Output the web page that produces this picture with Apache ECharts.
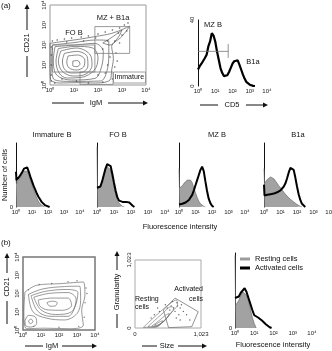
<!DOCTYPE html>
<html><head><meta charset="utf-8">
<script src="https://cdn.jsdelivr.net/npm/echarts@6/dist/echarts.min.js"></script>
<style>html,body{margin:0;padding:0;background:#fff}#c{width:332px;height:351px}</style>
</head><body><div id="c"></div>
<script>
// ---------- tick labels ----------
const decadeLabels = ['10\u2070','10\u00b9','10\u00b2','10\u00b3','10\u2074'];
const scatterTicks = [0, 1023];
const cd5Ticks = [0, 40];
const panelTitles = ['Immature B','FO B','MZ B','B1a'];
const legendNames = ['Resting cells','Activated cells'];

// ---------- histogram bins (log10 fluorescence) ----------
const histBins = [0,0.03,0.1,0.2,0.3,0.4,0.5,0.6,0.7,0.8,0.9,1.0,1.1,1.2,1.3,1.4,1.5,1.6,1.7,1.8,1.9,2.0,2.1,2.2,2.3,2.4,2.5,2.6,2.7,2.8,2.9,3.0,3.1,3.2,3.3,3.4];

// CD5 histogram of MZ+B1a gate (counts)
const cd5Counts = [10,10.5,12,13.5,14,17,19,24,27,32,30.5,27,21,16,11,8,6,5.5,6.5,8.5,11,13.5,15,16,15.5,13,10,7,4.5,2.5,1.5,0.8,0.4,0.1,0];
const cd5Gate = [[0,21],[1.75,21]];
const cd5GateTick = [[1.75,17],[1.75,25.5]];

// middle row histograms (relative number of cells)
const immGray  = [0.45,0.36,0.4,0.43,0.47,0.52,0.56,0.58,0.56,0.5,0.42,0.34,0.27,0.2,0.14,0.09,0.05,0.03,0.01,0];
const immBlack = [0.55,0.42,0.45,0.47,0.5,0.55,0.6,0.63,0.62,0.55,0.47,0.4,0.33,0.27,0.21,0.16,0.12,0.08,0.05,0.03,0.02,0.01,0];
const fobGray  = [0.94,0.27,0.28,0.32,0.4,0.5,0.58,0.63,0.64,0.58,0.46,0.32,0.2,0.11,0.06,0.03,0.01,0];
const fobBlack = [0.3,0.3,0.28,0.32,0.4,0.5,0.6,0.67,0.69,0.64,0.52,0.38,0.25,0.15,0.1,0.08,0.08,0.09,0.08,0.09,0.07,0.05,0.02,0];
const mzGray   = [0.6,0.3,0.3,0.33,0.37,0.4,0.42,0.43,0.42,0.38,0.3,0.22,0.15,0.09,0.05,0.03,0.01,0];
const mzBlack  = [0.04,0.04,0.04,0.05,0.06,0.07,0.09,0.11,0.14,0.19,0.26,0.34,0.42,0.5,0.58,0.63,0.56,0.4,0.25,0.13,0.06,0.02,0];
const b1aGray  = [0.6,0.37,0.4,0.43,0.46,0.47,0.46,0.44,0.41,0.37,0.33,0.3,0.27,0.23,0.2,0.17,0.15,0.12,0.1,0.08,0.06,0.04,0.02,0.01,0];
const b1aBlack = [0.35,0.18,0.18,0.19,0.2,0.2,0.21,0.21,0.22,0.23,0.24,0.26,0.28,0.32,0.37,0.45,0.54,0.61,0.63,0.58,0.46,0.32,0.2,0.11,0.05,0.02,0];

// bottom-right histogram
const restingCounts   = [0.97,0.3,0.32,0.37,0.43,0.48,0.5,0.44,0.36,0.25,0.14,0.06,0];
const activatedCounts = [0.4,0.4,0.38,0.42,0.47,0.5,0.53,0.48,0.4,0.32,0.24,0.17,0.15,0.14,0.12,0.1,0.08,0.05,0.03,0.01,0];

// ---------- contour plot (a): [log10 IgM, log10 CD21] ----------
const contourA1 = [[0,2.08],[0.49,2.17],[1.18,2.28],[1.87,2.42],[2.57,2.58],[3.12,2.83],[3.33,2.95],[2.99,2.42],[2.57,1.92],[2.64,1.33],[2.57,0.75],[2.5,0.25],[1.8,0.1],[1.18,0.12],[0.4,0.1],[0.02,0.3],[0,1.2]];
const contourA2 = [[0.1,2.0],[1.0,2.12],[1.9,2.25],[2.45,2.2],[2.45,1.5],[2.35,0.6],[2.1,0.2],[0.9,0.18],[0.15,0.3],[0.07,1.2]];
const contourA3 = [[0.21,1.92],[1.04,2.0],[1.87,2.08],[2.22,1.67],[2.15,0.92],[1.87,0.33],[0.9,0.25],[0.28,0.5],[0.14,1.25]];
const contourA4 = [[0.35,1.82],[1.07,1.93],[1.78,1.85],[2.0,1.35],[1.85,0.75],[1.3,0.38],[0.7,0.35],[0.38,0.6],[0.25,1.2]];
const contourA5 = [[0.45,1.7],[1.1,1.85],[1.65,1.55],[1.75,1.0],[1.5,0.55],[0.95,0.45],[0.5,0.7],[0.35,1.2]];
const contourA6 = [[0.6,1.58],[1.12,1.68],[1.55,1.42],[1.58,0.95],[1.3,0.62],[0.88,0.6],[0.6,0.8],[0.52,1.2]];
const contourA7 = [[0.75,1.45],[1.15,1.5],[1.45,1.25],[1.4,0.9],[1.1,0.75],[0.8,0.85],[0.7,1.15]];
const contourA8 = [[0.95,1.2],[1.15,1.22],[1.25,1.05],[1.12,0.92],[0.95,0.97]];
const contourA9 = [[2.2,2.1],[2.6,2.4],[3.0,2.75],[2.85,2.4],[2.5,2.0]];
const dotsA = [[0.1,2.2],[0.3,2.25],[0.6,2.3],[0.9,2.35],[1.3,2.4],[1.6,2.45],[2.0,2.55],[2.3,2.65],[2.6,2.75],[2.9,2.85],[3.1,3.0],[3.25,3.1],[2.7,2.2],[2.9,2.1],[2.4,2.2],[2.2,1.8],[2.75,1.6],[2.8,1.2],[2.7,0.9],[2.75,0.5],[2.6,0.3],[2.3,0.6],[2.0,0.5],[1.6,0.1],[2.2,0.15],[0.05,1.5],[0.05,1.0],[0.05,0.5],[0.1,1.8],[0.2,0.1],[3.0,2.5],[3.2,2.7],[1.4,2.2],[0.7,2.15],[2.5,1.4],[1.1,0.2],[0.5,0.3],[2.4,1.0],[0.05,1.9],[0.05,0.2],[1.9,2.35],[2.85,2.6]];
const gateFOB = [[0.1,2.0],[1.87,2.0],[1.87,0.65],[0.1,0.65]];
const gateMZ  = [[1.87,2.92],[3.32,2.92],[3.32,1.58],[1.87,1.58]];
const gateImm = [[1.25,0.65],[2.63,0.65],[2.63,0.03],[1.25,0.03]];

// ---------- contour plot (b) ----------
const contourB1 = [[0.11,2.08],[0.76,2.45],[2.06,2.54],[3.35,2.63],[3.44,1.9],[3.26,1.08],[3.35,0.26],[2.6,0.07],[1.2,0.1],[0.2,0.07],[0.05,1.0]];
const contourB2 = [[0.3,1.95],[1.1,2.25],[2.3,2.38],[3.15,2.4],[3.2,1.6],[3.0,0.9],[2.3,0.55],[1.3,0.65],[0.55,1.0]];
const contourB3 = [[0.45,1.88],[1.25,2.12],[2.4,2.22],[3.05,2.05],[2.9,1.3],[2.5,0.75],[1.5,0.75],[0.8,1.05]];
const contourB4 = [[0.6,1.8],[1.4,2.0],[2.5,2.05],[2.95,1.7],[2.7,1.0],[1.8,0.85],[1.0,1.1]];
const contourB5 = [[0.85,1.65],[1.6,1.75],[2.5,1.75],[2.7,1.35],[2.2,1.08],[1.4,1.1],[0.95,1.3]];
const contourB6 = [[1.33,1.5],[1.6,1.58],[1.9,1.5],[1.8,1.32],[1.5,1.3]];
const contourB7 = [[0.11,0.5],[0.3,0.8],[0.7,0.7],[0.76,0.35],[0.4,0.16],[0.15,0.25]];
const contourB8 = [[0.3,0.5],[0.45,0.6],[0.55,0.45],[0.4,0.35]];
const dotsB = [[0.3,2.2],[0.9,2.5],[1.6,2.55],[2.5,2.65],[3.0,2.7],[3.5,2.3],[3.45,1.5],[3.4,0.7],[3.1,0.2],[2.0,0.15],[0.6,0.2],[3.55,2.0]];

// ---------- size / granularity plot ----------
const scatterC1 = [[130,10],[250,120],[420,270],[560,380],[640,420],[660,360],[560,230],[430,90],[330,15]];
const scatterC2 = [[200,20],[300,110],[440,230],[560,320],[600,300],[520,180],[400,60],[290,15]];
const scatterC3 = [[260,30],[360,100],[470,190],[530,220],[500,150],[390,60],[300,25]];
const scatterC4 = [[300,40],[380,90],[430,110],[400,70],[330,40]];
const gateActivated = [[440,270],[620,450],[980,245],[880,20],[520,5]];
const scatterDots = [[560,330],[600,300],[650,380],[700,300],[750,250],[680,200],[620,250],[580,400],[720,350],[800,200],[500,300],[470,350],[380,250],[350,300],[300,200],[250,150],[700,120],[850,120],[640,150],[540,270],[660,330]];

// ---------- build chart ----------
const FONT = 'Liberation Sans, Arial, sans-serif';
const chart = echarts.init(document.getElementById('c'));

const gridDefs = [
  {left:50, top:5, width:96, height:80, show:true, borderColor:'#999', borderWidth:1},
  {left:198, top:20, width:69, height:66},
  {left:16, top:143, width:64, height:64},
  {left:97, top:143, width:68, height:64},
  {left:179, top:143, width:66, height:64},
  {left:264, top:143, width:66, height:64},
  {left:23, top:257, width:72, height:73, show:true, borderColor:'#777', borderWidth:1.5},
  {left:135, top:260, width:66, height:68, show:true, borderColor:'#aaa', borderWidth:1},
  {left:235, top:253, width:77, height:75}
].map(g => Object.assign({containLabel:false, outerBoundsMode:'none', backgroundColor:'transparent'}, g));

const lbl = {fontSize:6, color:'#222', fontFamily:FONT};
function decX(gi){ return {type:'value', gridIndex:gi, min:0, max:4, interval:1, axisLine:{show:false}, axisTick:{show:false}, splitLine:{show:false},
  axisLabel:Object.assign({margin:2, formatter:v=>decadeLabels[Math.round(v)]}, lbl)}; }
function decY(gi){ return {type:'value', gridIndex:gi, min:0, max:4, interval:1, axisLine:{show:false}, axisTick:{show:false}, splitLine:{show:false},
  axisLabel:Object.assign({margin:3, rotate:90, formatter:v=>decadeLabels[Math.round(v)]}, lbl)}; }
function relY(gi, showZero){ return {type:'value', gridIndex:gi, min:0, max:1, interval:1, axisLine:{show:true, lineStyle:{color:'#111', width:1}}, axisTick:{show:false}, splitLine:{show:false},
  axisLabel:Object.assign({margin:3, formatter:v=> (showZero && v===0) ? '0' : ''}, lbl)}; }

const xAxis = [decX(0), decX(1), decX(2), decX(3), decX(4), decX(5), decX(6),
  {type:'value', gridIndex:7, min:scatterTicks[0], max:scatterTicks[1], interval:scatterTicks[1], axisLine:{show:false}, axisTick:{show:false}, splitLine:{show:false}, axisLabel:Object.assign({margin:3}, lbl)},
  decX(8)];
const yAxis = [decY(0),
  {type:'value', gridIndex:1, min:cd5Ticks[0], max:cd5Ticks[1], interval:cd5Ticks[1], axisLine:{show:true, lineStyle:{color:'#111'}}, axisTick:{show:false}, splitLine:{show:false}, axisLabel:Object.assign({margin:3, rotate:90}, lbl)},
  relY(2,true), relY(3,false), relY(4,false), relY(5,false),
  decY(6),
  {type:'value', gridIndex:7, min:scatterTicks[0], max:scatterTicks[1], interval:scatterTicks[1], axisLine:{show:false}, axisTick:{show:false}, splitLine:{show:false}, axisLabel:Object.assign({margin:3, rotate:90}, lbl)},
  relY(8,true)];

const hist = vals => vals.map((v,i)=>[histBins[i], v]);
const series = [];
function loop(arr, gi, color, w){ series.push({type:'line', xAxisIndex:gi, yAxisIndex:gi, data:arr.concat([arr[0]]), smooth:0.35, symbol:'none', silent:true, lineStyle:{color:color, width:w}}); }
function poly(arr, gi, color, w, closed){ series.push({type:'line', xAxisIndex:gi, yAxisIndex:gi, data: closed ? arr.concat([arr[0]]) : arr, symbol:'none', silent:true, lineStyle:{color:color, width:w}}); }
function dots(arr, gi, color, s){ series.push({type:'scatter', xAxisIndex:gi, yAxisIndex:gi, data:arr, symbolSize:s, silent:true, itemStyle:{color:color}}); }
function grayHist(vals, gi, name){ series.push({type:'line', name:name, xAxisIndex:gi, yAxisIndex:gi, data:hist(vals), symbol:'none', silent:true,
  itemStyle:{color:'#9c9c9c'}, lineStyle:{color:'#6e6e6e', width:0.7}, areaStyle:{color:'#a2a2a2', opacity:1}}); }
function blackHist(vals, gi, name){ series.push({type:'line', name:name, xAxisIndex:gi, yAxisIndex:gi, data:hist(vals), symbol:'none', silent:true,
  itemStyle:{color:'#000'}, lineStyle:{color:'#000', width:2}}); }

// (a) contour
[contourA1, contourA2, contourA3, contourA4, contourA5, contourA6, contourA7, contourA8, contourA9].forEach(c => loop(c, 0, '#3c3c3c', 0.6));
dots(dotsA, 0, '#333', 1.6);
[gateFOB, gateMZ, gateImm].forEach(g => poly(g, 0, '#808080', 0.8, true));
// CD5 histogram
series.push({type:'line', xAxisIndex:1, yAxisIndex:1, data:hist(cd5Counts), symbol:'none', silent:true, lineStyle:{color:'#000', width:2.2}});
poly(cd5Gate, 1, '#777', 0.8, false);
poly(cd5GateTick, 1, '#777', 0.8, false);
// middle histograms
grayHist(immGray, 2); blackHist(immBlack, 2);
grayHist(fobGray, 3); blackHist(fobBlack, 3);
grayHist(mzGray, 4);  blackHist(mzBlack, 4);
grayHist(b1aGray, 5); blackHist(b1aBlack, 5);
// (b) contour
[contourB1, contourB2, contourB3, contourB4, contourB5, contourB6, contourB7, contourB8].forEach(c => loop(c, 6, '#555', 0.6));
dots(dotsB, 6, '#555', 1.4);
// size / granularity
[scatterC1, scatterC2, scatterC3, scatterC4].forEach(c => loop(c, 7, '#666', 0.6));
dots(scatterDots, 7, '#444', 1.4);
poly(gateActivated, 7, '#777', 0.8, true);
// bottom-right histogram
grayHist(restingCounts, 8, legendNames[0]);
blackHist(activatedCounts, 8, legendNames[1]);

// ---------- annotations ----------
const ROT = Math.PI/2;
const T = (x,y,text,o) => { o=o||{}; const a=o.align||'center'; return {type:'text', x:x, y:y, rotation:o.rot||0, silent:true, z:10,
  style:{text:text, fontSize:o.size||7.5, fontFamily:FONT, font:(o.size||7.5)+'px '+FONT, fill:'#111', align:a, textAlign:a, verticalAlign:'middle', textVerticalAlign:'middle'}}; };
const L = (x1,y1,x2,y2) => ({type:'line', silent:true, shape:{x1:x1,y1:y1,x2:x2,y2:y2}, style:{stroke:'#111', lineWidth:1}});
const AR = (x,y) => ({type:'polygon', silent:true, shape:{points:[[x,y],[x-5,y-2.5],[x-5,y+2.5]]}, style:{fill:'#111'}});
const AU = (x,y) => ({type:'polygon', silent:true, shape:{points:[[x,y],[x-2.5,y+5],[x+2.5,y+5]]}, style:{fill:'#111'}});

const graphics = [
  T(1,6,'(a)',{align:'left', size:8}),
  T(27,43,'CD21',{rot:ROT}), L(27,30,27,8), AU(27,4), L(27,56,27,77),
  T(96,103,'IgM'), L(52,103,84,103), L(108,103,143,103), AR(148,103),
  T(74,33,'FO B'), T(113,18,'MZ + B1a'),
  {type:'rect', silent:true, shape:{x:113.5, y:72, width:32, height:11}, style:{fill:'#fff', stroke:'#888', lineWidth:0.8}, z:9},
  T(114.5,77.5,'Immature',{align:'left', size:7}),
  T(213,25,'MZ B'), T(253,62,'B1a'),
  T(232,105,'CD5'), L(200,105,218,105), L(246,105,263,105), AR(268,105),
  T(52,135,panelTitles[0]), T(118,135,panelTitles[1]), T(217,135,panelTitles[2]), T(298,135,panelTitles[3]),
  T(5,175,'Number of cells',{rot:ROT}), T(180,227,'Fluorescence intensity'),
  T(1,243,'(b)',{align:'left', size:8}),
  T(7,287,'CD21',{rot:ROT}), AU(7,253), L(7,257,7,273), L(7,301,7,324),
  T(52,346,'IgM'), L(25,346,43,346), L(62,346,92,346), AR(97,346),
  T(117,292,'Granularity',{rot:ROT}), AU(117,251), L(117,255,117,270), L(117,314,117,328),
  T(167,346,'Size'), L(142,346,157,346), L(178,346,202,346), AR(207,346),
  T(135,299,'Resting',{align:'left', size:7}), T(135,307,'cells',{align:'left', size:7}),
  T(203,289,'Activated',{align:'right', size:7}), T(203,299,'cells',{align:'right', size:7}),
  T(273,345,'Fluorescence intensity')
];

chart.setOption({
  animation:false,
  backgroundColor:'#fff',
  textStyle:{fontFamily:FONT},
  grid:gridDefs,
  xAxis:xAxis,
  yAxis:yAxis,
  legend:{data:legendNames, orient:'vertical', left:240, top:255, itemWidth:10, itemHeight:3, itemGap:1, icon:'rect', padding:0,
    selectedMode:false, textStyle:{fontSize:7.5, fontFamily:FONT, color:'#111'}},
  series:series,
  graphic:{elements:graphics}
});
</script></body></html>
